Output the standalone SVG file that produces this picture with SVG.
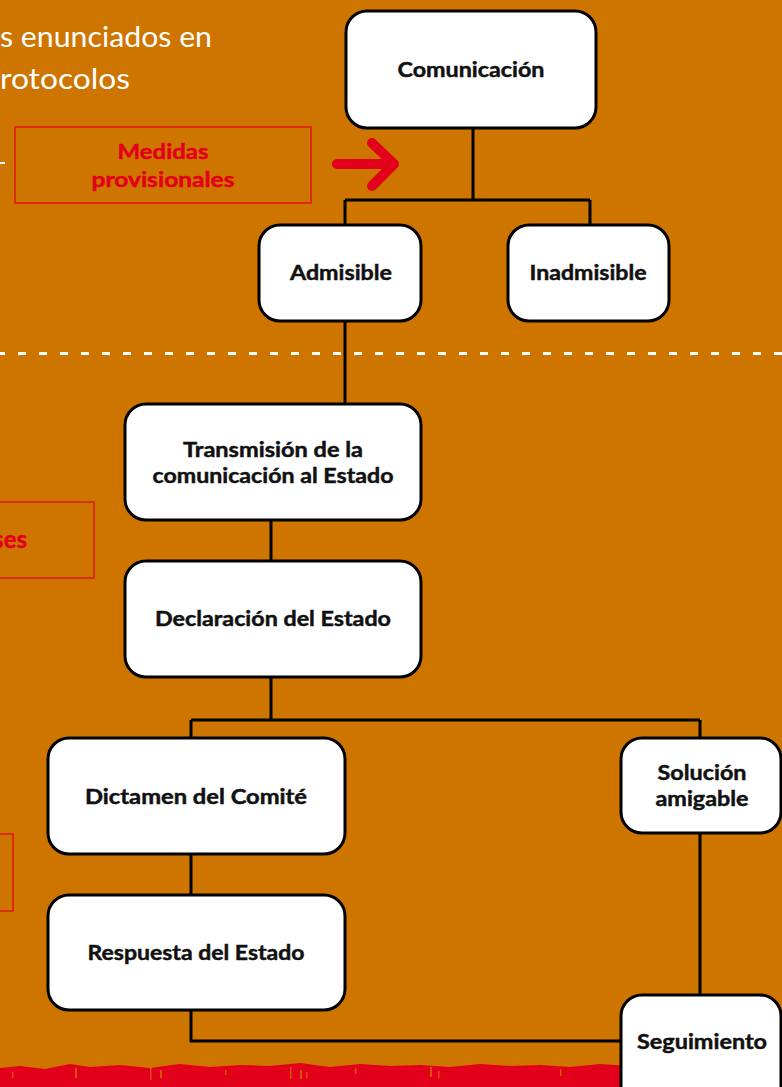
<svg xmlns="http://www.w3.org/2000/svg" width="782" height="1087" viewBox="0 0 782 1087">
<style>
.bg{fill:#CE7500}
.box{fill:#fff;stroke:#000;stroke-width:3}
.lbl{font-family:Lato,"Open Sans","Liberation Sans",sans-serif;font-weight:700;font-size:20px;fill:#111;stroke:#111;stroke-width:0.45;text-anchor:middle}
.red{font-family:Lato,"Open Sans","Liberation Sans",sans-serif;font-weight:700;font-size:20px;fill:#E2001A;stroke:#E2001A;stroke-width:0.45;text-anchor:middle}
.rbox{fill:none;stroke:#E2001A;stroke-width:1.2}
.conn{fill:none;stroke:#000;stroke-width:3}
.head{font-family:Lato,"Open Sans","Liberation Sans",sans-serif;font-weight:400;font-size:29px;fill:#fff}
</style>
<rect class="bg" x="0" y="0" width="782" height="1087"/>
<path d="M0,1068 L20,1066 L45,1069 L70,1064 L90,1067 L120,1065 L150,1068 L180,1064 L210,1067 L240,1065 L270,1066 L300,1063 L330,1067 L360,1064 L390,1066 L420,1065 L450,1067 L480,1064 L510,1066 L540,1065 L570,1067 L600,1064 L630,1066 L660,1065 L700,1067 L740,1064 L782,1066 L782,1087 L0,1087 Z" fill="#E2001A"/>
<g fill="#CE7500" opacity="0.75">
<rect x="75" y="1068" width="2" height="10"/><rect x="150" y="1066" width="1.5" height="14"/><rect x="160" y="1070" width="2" height="8"/><rect x="290" y="1067" width="1.5" height="12"/><rect x="300" y="1070" width="2" height="9"/><rect x="306" y="1072" width="1.5" height="6"/><rect x="355" y="1068" width="1.5" height="6"/><rect x="430" y="1067" width="2" height="10"/><rect x="438" y="1071" width="1.5" height="7"/><rect x="560" y="1069" width="1.5" height="7"/><rect x="12" y="1072" width="1.5" height="6"/><rect x="225" y="1070" width="1.5" height="5"/>
</g>
<text class="head" x="0" y="47" textLength="212" lengthAdjust="spacingAndGlyphs">s enunciados en</text>
<text class="head" x="0" y="89" textLength="130" lengthAdjust="spacingAndGlyphs">rotocolos</text>
<line x1="0" y1="163" x2="5" y2="163" stroke="#fff" stroke-width="2"/>
<line x1="0" y1="353.5" x2="782" y2="353.5" stroke="#fff" stroke-width="3" stroke-dasharray="8 13" stroke-dashoffset="3"/>
<g id="connectors">
<path class="conn" d="M473,128 V200 M345,200 H590 M345,200 V225 M590,200 V225"/>
<path class="conn" d="M345,321 V404"/>
<path class="conn" d="M271,520 V561"/>
<path class="conn" d="M271,677 V720 M191,720 H700 M191,720 V738 M700,720 V738"/>
<path class="conn" d="M191,854 V895"/>
<path class="conn" d="M191,1010 V1041 H621"/>
<path class="conn" d="M700,833 V995"/>
</g>
<g id="medidas">
<rect class="rbox" x="15" y="127" width="296" height="76"/>
<text class="red" x="163" y="159" textLength="91" lengthAdjust="spacingAndGlyphs">Medidas</text>
<text class="red" x="163" y="187" textLength="143" lengthAdjust="spacingAndGlyphs">provisionales</text>
</g>
<g id="arrow">
<path d="M337,164 H394 M372,143 L394,164 L372,186" fill="none" stroke="#E2001A" stroke-width="10" stroke-linecap="round" stroke-linejoin="round"/>
</g>
<g id="ses">
<rect class="rbox" x="-10" y="502" width="104" height="76"/>
<text class="red" x="27" y="548" style="text-anchor:end;font-size:24px">ses</text>
</g>
<g id="leftbox">
<rect class="rbox" x="-10" y="834" width="23" height="77"/>
</g>
<g id="comunicacion">
<rect class="box" x="346" y="11" width="250" height="117" rx="21"/>
<text class="lbl" x="471" y="77" textLength="147" lengthAdjust="spacingAndGlyphs">Comunicación</text>
</g>
<g id="admisible">
<rect class="box" x="259" y="225" width="162" height="96" rx="21"/>
<text class="lbl" x="341" y="280" textLength="102" lengthAdjust="spacingAndGlyphs">Admisible</text>
</g>
<g id="inadmisible">
<rect class="box" x="508" y="225" width="161" height="96" rx="21"/>
<text class="lbl" x="588" y="280" textLength="117" lengthAdjust="spacingAndGlyphs">Inadmisible</text>
</g>
<g id="transmision">
<rect class="box" x="125" y="404" width="296" height="116" rx="21"/>
<text class="lbl" x="273" y="457" textLength="180" lengthAdjust="spacingAndGlyphs">Transmisión de la</text>
<text class="lbl" x="273" y="483" textLength="241" lengthAdjust="spacingAndGlyphs">comunicación al Estado</text>
</g>
<g id="declaracion">
<rect class="box" x="125" y="561" width="296" height="116" rx="21"/>
<text class="lbl" x="273" y="626" textLength="236" lengthAdjust="spacingAndGlyphs">Declaración del Estado</text>
</g>
<g id="dictamen">
<rect class="box" x="48" y="738" width="297" height="116" rx="21"/>
<text class="lbl" x="196" y="804" textLength="222" lengthAdjust="spacingAndGlyphs">Dictamen del Comité</text>
</g>
<g id="solucion">
<rect class="box" x="621" y="738" width="160" height="95" rx="21"/>
<text class="lbl" x="702" y="780" textLength="89" lengthAdjust="spacingAndGlyphs">Solución</text>
<text class="lbl" x="702" y="806" textLength="93" lengthAdjust="spacingAndGlyphs">amigable</text>
</g>
<g id="respuesta">
<rect class="box" x="48" y="895" width="297" height="115" rx="21"/>
<text class="lbl" x="196" y="960" textLength="217" lengthAdjust="spacingAndGlyphs">Respuesta del Estado</text>
</g>
<g id="seguimiento">
<rect class="box" x="621" y="995" width="160" height="115" rx="21"/>
<text class="lbl" x="702" y="1049" textLength="130" lengthAdjust="spacingAndGlyphs">Seguimiento</text>
</g>
</svg>
